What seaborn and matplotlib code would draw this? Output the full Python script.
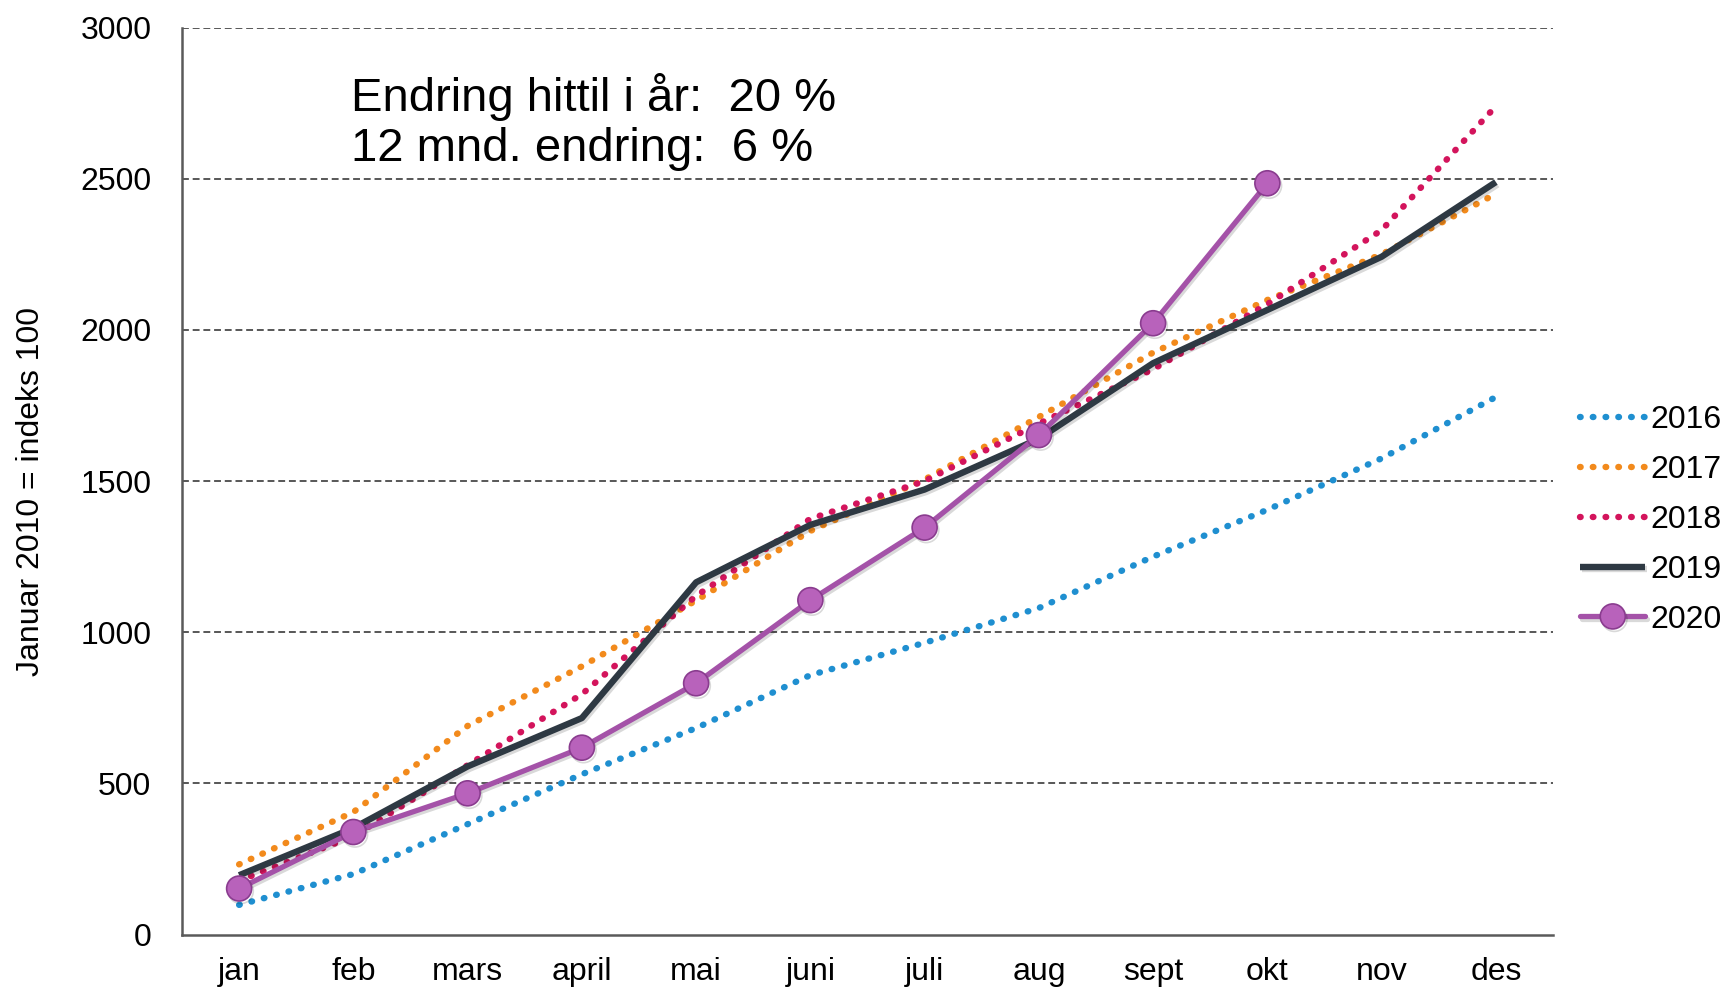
import numpy as np
import pandas as pd
import matplotlib
matplotlib.use("Agg")
import matplotlib.pyplot as plt
import matplotlib.patheffects as pe
import seaborn as sns

months = ["jan", "feb", "mars", "april", "mai", "juni", "juli", "aug", "sept", "okt", "nov", "des"]
y2016 = [98, 200, 365, 530, 683, 858, 965, 1080, 1250, 1405, 1575, 1778]
y2017 = [232, 405, 690, 887, 1105, 1335, 1505, 1712, 1925, 2099, 2250, 2450]
y2018 = [178, 325, 560, 795, 1120, 1375, 1500, 1690, 1870, 2085, 2330, 2740]
y2019 = [196, 352, 556, 716, 1165, 1355, 1472, 1640, 1890, 2066, 2242, 2489]
y2020 = [152, 339, 467, 618, 831, 1106, 1346, 1652, 2022, 2485, np.nan, np.nan]
yticks = [0, 500, 1000, 1500, 2000, 2500, 3000]
annotation = "Endring hittil i år:  20 %\n12 mnd. endring:  6 %"
ylabel = "Januar 2010 = indeks 100"

sns.set_theme(style="white")
plt.rcParams["font.family"] = ["Liberation Sans", "DejaVu Sans"]
plt.rcParams["text.color"] = "black"
plt.rcParams["axes.labelcolor"] = "black"
plt.rcParams["xtick.color"] = "black"
plt.rcParams["ytick.color"] = "black"

fig = plt.figure(figsize=(17.3, 9.92), dpi=100)
ax = fig.add_axes([182 / 1730, 1 - 934.5 / 992, (1553 - 182) / 1730, (934.5 - 27.6) / 992])

x = np.arange(len(months))
shadow = [pe.SimpleLineShadow(offset=(1.2, -1.8), alpha=0.15, shadow_color="black"), pe.Normal()]

dotted = (0, (0.1, 1.9))
series = [
    ("2016", y2016, dict(color="#1F8FD0", linewidth=4.6, linestyle=dotted, dash_capstyle="round")),
    ("2017", y2017, dict(color="#F28A1C", linewidth=4.6, linestyle=dotted, dash_capstyle="round")),
    ("2018", y2018, dict(color="#D3145C", linewidth=4.6, linestyle=dotted, dash_capstyle="round")),
    ("2019", y2019, dict(color="#2E3943", linewidth=4.6, linestyle="-", solid_capstyle="butt",
                         path_effects=shadow)),
    ("2020", y2020, dict(color="#A452A8", linewidth=3.8, linestyle="-", marker="o", markersize=18,
                         markerfacecolor="#B862BB", markeredgecolor="#8A3C8F", markeredgewidth=1.2,
                         path_effects=shadow)),
]

for name, vals, kw in series:
    df = pd.DataFrame({"x": x, "y": vals}).dropna()
    sns.lineplot(data=df, x="x", y="y", ax=ax, label=name, **kw)

ax.set_xlim(-0.5, 11.5)
ax.set_ylim(0, 3000)
ax.set_xticks(x)
ax.set_xticklabels(months, fontsize=23)
ax.set_yticks(yticks)
ax.set_yticklabels([str(v) for v in yticks], fontsize=23)
ax.tick_params(axis="x", length=0, pad=16)
ax.tick_params(axis="y", length=0, pad=22)
ax.set_xlabel("")
ax.set_ylabel(ylabel, fontsize=23, va="center")
ax.yaxis.set_label_coords(-0.11, 0.489)

for v in yticks[1:]:
    ax.axhline(v, color="#2a2a2a", linewidth=1.1, linestyle=(0, (4.5, 2.5)), zorder=0.5)

for s in ["top", "right"]:
    ax.spines[s].set_visible(False)
for s in ["left", "bottom"]:
    ax.spines[s].set_color("#5a5a5a")
    ax.spines[s].set_linewidth(1.8)

ax.text(0.123, 0.896, annotation, transform=ax.transAxes, ha="left", va="center",
        fontsize=34, color="black", linespacing=1.2)

handles, labels = ax.get_legend_handles_labels()
leg = ax.legend(handles, labels, loc="center left", bbox_to_anchor=(1580 / 1730, 1 - 520 / 992),
                bbox_transform=fig.transFigure, frameon=False, borderpad=0, borderaxespad=0,
                handlelength=2.05, handletextpad=0.15, labelspacing=0.62, fontsize=23)

fig.savefig("out.png", dpi=100, facecolor="white")
